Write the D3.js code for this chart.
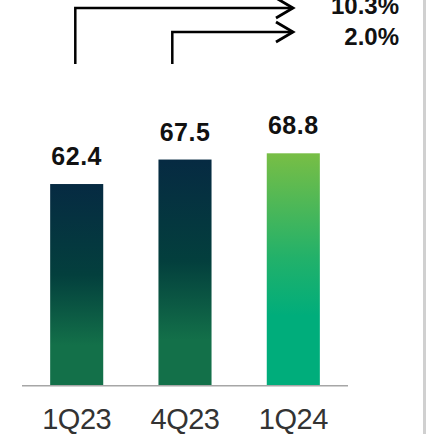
<!DOCTYPE html>
<html>
<head>
<meta charset="UTF-8">
<script src="https://d3js.org/d3.v7.min.js"></script>
<style>
  body { margin: 0; background: #fff; }
</style>
</head>
<body>
<svg id="chart" width="426" height="434"></svg>
<script>
// chart data
const quarters = ["1Q23", "4Q23", "1Q24"];
const values = [62.4, 67.5, 68.8];
const growthLabels = ["10.3%", "2.0%"];
// which bar each growth bracket starts from (both point at the last bar)
const growthFrom = ["1Q23", "4Q23"];

const svg = d3.select("#chart");
const width = +svg.attr("width");
const height = +svg.attr("height");

// gradients for the bars
const defs = svg.append("defs");
const gOld = defs.append("linearGradient").attr("id", "gOld")
  .attr("x1", 0).attr("y1", 0).attr("x2", 0).attr("y2", 1);
gOld.append("stop").attr("offset", "0%").attr("stop-color", "#062a42");
gOld.append("stop").attr("offset", "45%").attr("stop-color", "#033f3d");
gOld.append("stop").attr("offset", "80%").attr("stop-color", "#137049");
gOld.append("stop").attr("offset", "100%").attr("stop-color", "#137049");
const gNew = defs.append("linearGradient").attr("id", "gNew")
  .attr("x1", 0).attr("y1", 0).attr("x2", 0).attr("y2", 1);
gNew.append("stop").attr("offset", "0%").attr("stop-color", "#78be45");
gNew.append("stop").attr("offset", "45%").attr("stop-color", "#22b16a");
gNew.append("stop").attr("offset", "70%").attr("stop-color", "#00ad7b");
gNew.append("stop").attr("offset", "100%").attr("stop-color", "#00ad7b");

// scales (value axis is truncated in the source)
const x = d3.scaleBand().domain(quarters).range([22, 348]).paddingInner(0.51).paddingOuter(0.26);
const y = d3.scaleLinear().domain([20.4, 68.8]).range([385.7, 153.3]);

// bars
svg.selectAll("rect.bar")
  .data(values)
  .join("rect")
  .attr("class", "bar")
  .attr("x", (d, i) => x(quarters[i]))
  .attr("width", x.bandwidth())
  .attr("y", d => y(d))
  .attr("height", d => y.range()[0] - y(d))
  .attr("fill", (d, i) => i === values.length - 1 ? "url(#gNew)" : "url(#gOld)");

// value labels
svg.selectAll("text.val")
  .data(values)
  .join("text")
  .attr("class", "val")
  .attr("x", (d, i) => x(quarters[i]) + x.bandwidth() / 2)
  .attr("y", d => y(d) - 19)
  .attr("text-anchor", "middle")
  .style("font-family", "'Liberation Sans', Arial, sans-serif")
  .style("font-weight", "bold")
  .style("font-size", "25px")
  .style("letter-spacing", "0.5px")
  .attr("fill", "#111")
  .text(d => d.toFixed(1));

// baseline
svg.append("line")
  .attr("x1", 22).attr("x2", 348)
  .attr("y1", y.range()[0]).attr("y2", y.range()[0])
  .attr("stroke", "#a6a6a6").attr("stroke-width", 1.5);

// category labels
const xAxis = d3.axisBottom(x).tickSize(0).tickPadding(0);
const ax = svg.append("g").attr("transform", `translate(0,${y.range()[0]})`).call(xAxis);
ax.select(".domain").remove();
ax.selectAll("text")
  .attr("dy", 0).attr("y", 43.5)
  .style("font-family", "'Liberation Sans', Arial, sans-serif")
  .style("font-size", "29px")
  .style("letter-spacing", "-0.5px")
  .attr("fill", "#333");

// growth brackets
const tipX = 293;
const bracketY = [8, 32];
const labelY = [13.5, 45];
const bracketBottom = 64;
const bracketX = [75.3, 172.3];
growthFrom.forEach((q, i) => {
  const bx = bracketX[i];
  svg.append("path")
    .attr("d", `M${bx},${bracketBottom} L${bx},${bracketY[i]} L${tipX},${bracketY[i]}`)
    .attr("fill", "none").attr("stroke", "#000").attr("stroke-width", 2.5);
  svg.append("path")
    .attr("d", `M${tipX - 17},${bracketY[i] - 10} L${tipX},${bracketY[i]} L${tipX - 17},${bracketY[i] + 10}`)
    .attr("fill", "none").attr("stroke", "#000").attr("stroke-width", 2.8);
  svg.append("text")
    .attr("x", 399)
    .attr("y", labelY[i])
    .attr("text-anchor", "end")
    .style("font-family", "'Liberation Sans', Arial, sans-serif")
    .style("font-weight", "bold")
    .style("font-size", "24px")
    .attr("fill", "#111")
    .text(growthLabels[i]);
});

// right separator
svg.append("line")
  .attr("x1", width - 1.5).attr("x2", width - 1.5)
  .attr("y1", 0).attr("y2", height)
  .attr("stroke", "#d0d0d0").attr("stroke-width", 3);
</script>
</body>
</html>
